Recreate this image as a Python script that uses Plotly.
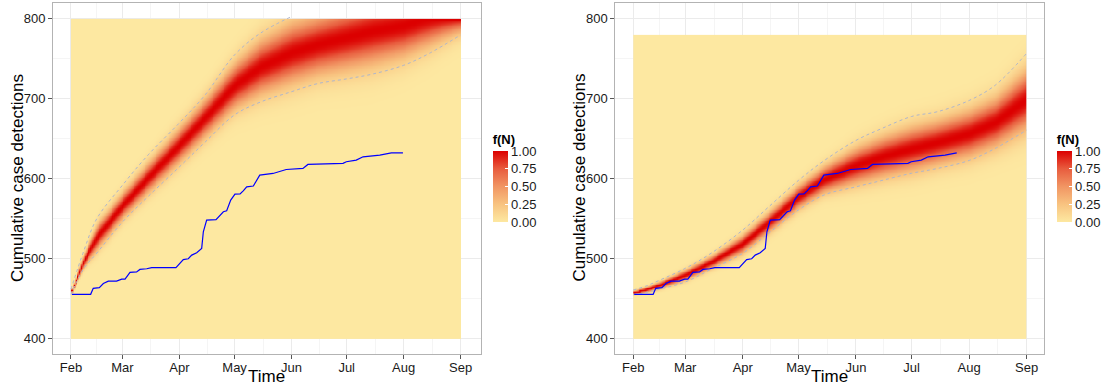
import numpy as np
import pandas as pd
import plotly.graph_objects as go

W, H = 1104, 387
FONT = "Liberation Sans"

# ---------------- data ----------------
base_date = "2014-02-01"
band_dates = ["2014-02-01", "2014-02-08", "2014-02-15", "2014-03-01", "2014-03-15",
              "2014-04-01", "2014-04-15", "2014-05-01", "2014-05-15", "2014-06-01",
              "2014-06-15", "2014-07-01", "2014-07-15", "2014-08-01", "2014-08-15",
              "2014-09-01"]

# left panel: centre of density band, lower / upper dashed bounds
left_mid = [458, 498, 527, 567, 602, 643, 677, 717, 740, 758, 768, 777, 785, 792, 802, 815]
left_lo = [455.5, 488, 507, 546, 578, 615, 646, 680, 696, 709, 719, 725, 731, 742, 757, 780]
left_hi = [462, 510, 550, 592, 630, 670, 705, 755, 782, 803,
           None, None, None, None, None, None]

# right panel
right_mid = [458, 462, 467, 480, 496, 519, 546, 578, 600, 617, 628, 638, 646, 657, 671, 700]
right_lo = [455, 458, 462, 471, 487, 507, 532, 561, 580, 590, 598, 607, 613, 623, 638, 661]
right_hi = [461, 466, 473, 488, 507, 536, 565, 598, 623, 648, 663, 678, 684, 698, 717, 757]

# observed cumulative detections (days since 1 Feb, count)
obs_day = [0.5, 10.7, 12.1, 15.4, 17.6, 20.3, 24.8, 27.6, 29.4, 32.1, 35.7, 37.5, 41.2,
           43.9, 57.1, 61.1, 63.8, 65.7, 68.4, 71.1, 72.0, 73.8, 78.9, 81.1, 82.9, 84.7,
           86.9, 89.2, 92.0, 93.7, 95.6, 99.2, 102.7, 109.9, 113.5, 117.1, 126.2, 128.9,
           148.0, 149.8, 155.2, 158.9, 168.0, 174.3, 180.6]
obs_n = [455.5, 455.5, 463, 464, 469, 472, 472, 474.6, 474.6, 483, 483.5, 486.7, 487.5,
         489, 489, 499, 500, 504.6, 507.5, 513, 533.8, 548.4, 549, 554.6, 558.8, 560,
         573.4, 580.9, 581, 585, 590, 591, 604.6, 606.7, 609, 611.7, 613, 618,
         619.3, 621.4, 623.4, 627.5, 629.7, 632.5, 632.5]

month_ticks = ["2014-02-01", "2014-03-01", "2014-04-01", "2014-05-01",
               "2014-06-01", "2014-07-01", "2014-08-01", "2014-09-01"]
month_labels = ["Feb", "Mar", "Apr", "May", "Jun", "Jul", "Aug", "Sep"]
y_ticks = [400, 500, 600, 700, 800]
y_minor = [450, 550, 650, 750]
cbar_ticks = [0, 0.25, 0.5, 0.75, 1.0]
cbar_labels = ["0.00", "0.25", "0.50", "0.75", "1.00"]

# ---------------- styling ----------------
COLORSCALE = [[0.0, "#FDE8A1"], [0.25, "#F8C380"], [0.5, "#F19563"],
              [0.75, "#E85C3E"], [1.0, "#DC0000"]]
BORDER = "#B3B3B3"
GRID = "#EBEBEB"
GRID_MINOR = "#F5F5F5"
DASH_COL = "#AEB6CC"

base = pd.Timestamp(base_date)
mt = pd.to_datetime(month_ticks)
minor_x = [mt[i] + (mt[i + 1] - mt[i]) / 2 for i in range(len(mt) - 1)]


def surface(mid, lo, hi, ytop, use_hi):
    key_t = (pd.to_datetime(band_dates) - base).days.values.astype(float)
    days = np.arange(0.5, 212, 1.0)
    mid_a = np.array(mid, float)
    lo_a = np.array(lo, float)
    if use_hi:
        sd = (np.array(hi, float) - lo_a) / 4.0
    else:
        sd = (mid_a - lo_a) / 2.0
    m = np.interp(days, key_t, mid_a)
    s = np.interp(days, key_t, sd)
    n = np.arange(401, ytop, 2.0)
    z = np.exp(-0.5 * ((n[:, None] - m[None, :]) / s[None, :]) ** 2)
    z = z / z.max(axis=0, keepdims=True)
    x = base + pd.to_timedelta(days, unit="D")
    return x, n, z


def cbar(xpix):
    # bar 150..222 px, title above it (~18 px)
    return dict(
        x=xpix / W, xanchor="left", xpad=0,
        y=1 - 222 / H, yanchor="bottom", ypad=0,
        len=91, lenmode="pixels", thickness=15, thicknessmode="pixels",
        outlinewidth=0, tickvals=cbar_ticks, ticktext=cbar_labels,
        ticks="inside", ticklen=3, tickcolor="white", tickwidth=1,
        tickfont=dict(family=FONT, size=13, color="#1a1a1a"),
        title=dict(text="<b>f(N)</b>", side="top",
                   font=dict(family=FONT, size=13, color="#000")),
    )


fig = go.Figure()

panels = [
    dict(mid=left_mid, lo=left_lo, hi=left_hi, ytop=800, use_hi=False,
         xa="x", ya="y", cb=492.7, obs_end=len(obs_day)),
    dict(mid=right_mid, lo=right_lo, hi=right_hi, ytop=780, use_hi=True,
         xa="x2", ya="y2", cb=1056.7, obs_end=len(obs_day) - 1),
]

bd = pd.to_datetime(band_dates)
for p in panels:
    x, n, z = surface(p["mid"], p["lo"], p["hi"], p["ytop"], p["use_hi"])
    fig.add_trace(go.Heatmap(x=x, y=n, z=z, zmin=0, zmax=1, colorscale=COLORSCALE,
                             zsmooth="best", colorbar=cbar(p["cb"]),
                             xaxis=p["xa"], yaxis=p["ya"], hoverinfo="skip"))
    for arr in (p["lo"], p["hi"]):
        fig.add_trace(go.Scatter(x=bd, y=arr, mode="lines", line_shape="spline",
                                 line=dict(color=DASH_COL, width=1, dash="3px,3px"),
                                 xaxis=p["xa"], yaxis=p["ya"], showlegend=False,
                                 connectgaps=False))
    ox = base + pd.to_timedelta(np.array(obs_day[:p["obs_end"]]), unit="D")
    fig.add_trace(go.Scatter(x=ox, y=obs_n[:p["obs_end"]], mode="lines",
                             line=dict(color="#0000FF", width=1.2),
                             xaxis=p["xa"], yaxis=p["ya"], showlegend=False))


def xaxis(dom, lo_days, hi_days):
    return dict(
        domain=dom, type="date",
        range=[base + pd.Timedelta(days=lo_days), base + pd.Timedelta(days=hi_days)],
        tickvals=mt, ticktext=month_labels, ticks="outside", ticklen=4,
        tickcolor="#555555", tickwidth=1, ticklabelstandoff=-3,
        tickfont=dict(family=FONT, size=13, color="#1a1a1a"),
        showline=True, linecolor=BORDER, linewidth=1, mirror=True,
        showgrid=True, gridcolor=GRID, gridwidth=1, zeroline=False,
        minor=dict(tickvals=minor_x, showgrid=True, gridcolor=GRID_MINOR,
                   gridwidth=0.6, ticks=""),
    )


def yaxis(anchor):
    return dict(
        domain=[1 - 354 / H, 1 - 3 / H], range=[380.9, 819.9], anchor=anchor,
        tickvals=y_ticks, ticks="outside", ticklen=4, tickcolor="#555555", tickwidth=1,
        tickfont=dict(family=FONT, size=13, color="#1a1a1a"),
        showline=True, linecolor=BORDER, linewidth=1, mirror=True,
        showgrid=True, gridcolor=GRID, gridwidth=1, zeroline=False,
        minor=dict(tickvals=y_minor, showgrid=True, gridcolor=GRID_MINOR,
                   gridwidth=0.6, ticks=""),
    )


xa1 = xaxis([53 / W, 480.7 / W], -9.79, 222.9)
xa1["anchor"] = "y"
xa2 = xaxis([615.3 / W, 1044.3 / W], -9.7, 221.5)
xa2["anchor"] = "y2"

title_font = dict(family=FONT, size=17, color="#000")
annotations = [
    dict(text="Cumulative case detections", x=17 / W, y=1 - 178 / H, xref="paper",
         yref="paper", textangle=-90, showarrow=False, font=title_font,
         xanchor="center", yanchor="middle"),
    dict(text="Cumulative case detections", x=578.5 / W, y=1 - 178 / H, xref="paper",
         yref="paper", textangle=-90, showarrow=False, font=title_font,
         xanchor="center", yanchor="middle"),
    dict(text="Time", x=266.8 / W, y=0, xref="paper", yref="paper", borderpad=0,
         showarrow=False, font=title_font, xanchor="center", yanchor="bottom"),
    dict(text="Time", x=829.8 / W, y=0, xref="paper", yref="paper", borderpad=0,
         showarrow=False, font=title_font, xanchor="center", yanchor="bottom"),
]

fig.update_layout(
    width=W, height=H, margin=dict(l=0, r=0, t=0, b=0),
    paper_bgcolor="white", plot_bgcolor="white",
    font=dict(family=FONT),
    xaxis=xa1, yaxis=yaxis("x"), xaxis2=xa2, yaxis2=yaxis("x2"),
    showlegend=False, annotations=annotations,
)

fig.write_html("out.html")
